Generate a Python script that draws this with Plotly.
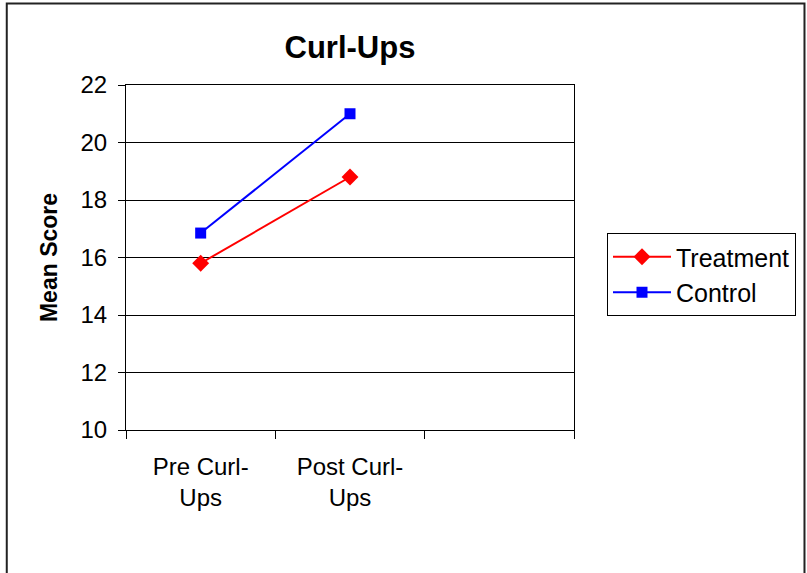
import plotly.graph_objects as go

# Category slots along the x axis (third slot left empty)
categories = ["Pre Curl-<br>Ups", "Post Curl-<br>Ups", " "]
plotted = categories[:2]

treatment = [15.8, 18.8]
control = [16.85, 21.0]

y_ticks = [10, 12, 14, 16, 18, 20, 22]

W, H = 807, 573
L, R, T, B = 126, 232, 85, 143
pw, ph = W - L - R, H - T - B

FONT = "Liberation Sans, Arial, sans-serif"

fig = go.Figure()
fig.add_trace(go.Scatter(
    x=plotted, y=treatment, name="Treatment", mode="lines+markers",
    line=dict(color="#ff0000", width=2),
    marker=dict(symbol="diamond", size=13, color="#ff0000"),
))
fig.add_trace(go.Scatter(
    x=plotted, y=control, name="Control", mode="lines+markers",
    line=dict(color="#0000ff", width=2),
    marker=dict(symbol="square", size=11, color="#0000ff"),
))

def px_x(x):
    return (x - L) / pw

def px_y(y):
    return (H - B - y) / ph

# Outer chart frame
fig.add_shape(type="rect", xref="paper", yref="paper",
              x0=px_x(6.5), x1=px_x(806), y0=px_y(590), y1=px_y(3.5),
              line=dict(color="#222222", width=2), fillcolor="rgba(0,0,0,0)",
              layer="below")

fig.update_layout(
    width=W, height=H,
    margin=dict(l=L, r=R, t=T, b=B, pad=0),
    paper_bgcolor="white", plot_bgcolor="white",
    font=dict(family=FONT, size=24, color="black"),
    title=dict(text="<b>Curl-Ups</b>", xref="paper", x=px_x(350.5),
               xanchor="center", y=1 - 47 / H, yanchor="middle",
               font=dict(family=FONT, size=31, color="black")),
    showlegend=True,
    legend=dict(x=px_x(607), y=px_y(233), xanchor="left", yanchor="top",
                bordercolor="black", borderwidth=1, bgcolor="white",
                font=dict(family=FONT, size=25, color="black"),
                tracegroupgap=0, itemwidth=58),
    xaxis=dict(
        type="category", categoryorder="array", categoryarray=categories,
        range=[-0.5, 2.5], tickson="boundaries",
        ticks="outside", ticklen=8, tickcolor="black", tickwidth=1,
        showline=True, linecolor="black", linewidth=1, mirror=True,
        showgrid=False, zeroline=False,
        ticklabelstandoff=15,
        tickfont=dict(family=FONT, size=24, color="black"),
    ),
    yaxis=dict(
        range=[10, 22], tickvals=y_ticks,
        ticks="outside", ticklen=7, tickcolor="black", tickwidth=1,
        showline=True, linecolor="black", linewidth=1, mirror=True,
        showgrid=True, gridcolor="black", gridwidth=1, zeroline=False,
        tickfont=dict(family=FONT, size=24, color="black"),
        ticklabelstandoff=6,
        title=dict(text="<b>Mean Score</b>", standoff=16,
                   font=dict(family=FONT, size=23, color="black")),
    ),
)

fig.write_html("out.html")
